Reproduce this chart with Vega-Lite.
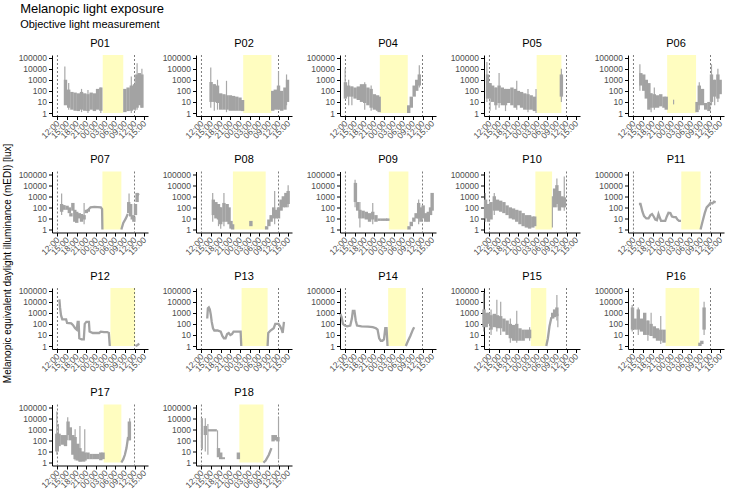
{
"$schema": "https://vega.github.io/schema/vega-lite/v6.json",
"background": "white",
"padding": {"left": 3, "top": 2, "right": 3, "bottom": 3},
"title": {"text": "Melanopic light exposure", "subtitle": "Objective light measurement", "anchor": "start", "frame": "bounds", "dx": 17, "font": "Liberation Sans", "fontSize": 13, "fontWeight": "normal", "color": "black", "subtitleFont": "Liberation Sans", "subtitleFontSize": 11, "subtitleColor": "black", "subtitlePadding": 3, "offset": 8},
"config": {
  "view": {"stroke": null},
  "axis": {"grid": false, "domainColor": "black", "domainWidth": 1, "tickColor": "black", "tickSize": 3.5, "labelColor": "#4D4D4D", "labelFont": "Liberation Sans", "labelFontSize": 8.5, "labelPadding": 2, "title": null}
},
"vconcat": [{
  "title": {"text": "Melanopic equivalent daylight illuminance (mEDI) [lux]", "orient": "left", "anchor": "middle", "font": "Liberation Sans", "fontSize": 10, "fontWeight": "normal", "color": "black", "offset": 5},
  "data": {"values": [
{"p":"P01","k":"s","h":26.1,"h2":32.5},{"p":"P01","k":"d","h":12},{"p":"P01","k":"d","h":36},
{"p":"P01","k":"b","h":14.5,"lo":5,"hi":1000},{"p":"P01","k":"b","h":15.5,"lo":3,"hi":130},{"p":"P01","k":"b","h":16.5,"lo":2,"hi":80},{"p":"P01","k":"b","h":17.5,"lo":1.6,"hi":70},{"p":"P01","k":"b","h":18.5,"lo":1.5,"hi":60},{"p":"P01","k":"b","h":19.5,"lo":2,"hi":80},{"p":"P01","k":"b","h":20.5,"lo":1.6,"hi":60},{"p":"P01","k":"b","h":21.5,"lo":1.5,"hi":50},{"p":"P01","k":"b","h":22.5,"lo":2,"hi":70},{"p":"P01","k":"b","h":23.5,"lo":1.5,"hi":60},{"p":"P01","k":"b","h":24.5,"lo":2,"hi":150},{"p":"P01","k":"b","h":25.5,"lo":1.6,"hi":200},{"p":"P01","k":"b","h":33,"lo":1.2,"hi":150},{"p":"P01","k":"b","h":34,"lo":1.5,"hi":200},{"p":"P01","k":"b","h":35,"lo":1.6,"hi":300},{"p":"P01","k":"b","h":36,"lo":2,"hi":400},{"p":"P01","k":"b","h":36.8,"lo":3,"hi":3000},{"p":"P01","k":"b","h":37.5,"lo":5,"hi":4000},{"p":"P01","k":"b","h":38.3,"lo":3,"hi":3000},
{"p":"P01","k":"x","h":14.3,"lo":10,"hi":16000},{"p":"P01","k":"x","h":15.5,"lo":2,"hi":500},{"p":"P01","k":"x","h":19.5,"lo":1.2,"hi":150},{"p":"P01","k":"x","h":21.5,"lo":1,"hi":120},{"p":"P01","k":"x","h":25.5,"lo":1,"hi":200},{"p":"P01","k":"x","h":35,"lo":1,"hi":2000},{"p":"P01","k":"x","h":36.2,"lo":1.6,"hi":3000},{"p":"P01","k":"x","h":36.8,"lo":2,"hi":30000},{"p":"P01","k":"x","h":38.3,"lo":3,"hi":10000},

{"p":"P02","k":"s","h":25,"h2":33.8},{"p":"P02","k":"d","h":12},{"p":"P02","k":"d","h":36},
{"p":"P02","k":"b","h":15,"lo":10,"hi":630},{"p":"P02","k":"b","h":16,"lo":10,"hi":400},{"p":"P02","k":"b","h":17,"lo":8,"hi":300},{"p":"P02","k":"b","h":18,"lo":2,"hi":60},{"p":"P02","k":"b","h":19,"lo":2,"hi":50},{"p":"P02","k":"b","h":20,"lo":2,"hi":40},{"p":"P02","k":"b","h":21,"lo":1.6,"hi":40},{"p":"P02","k":"b","h":22,"lo":1.6,"hi":35},{"p":"P02","k":"b","h":23,"lo":1.6,"hi":30},{"p":"P02","k":"b","h":24,"lo":1.6,"hi":25},{"p":"P02","k":"b","h":24.8,"lo":1.5,"hi":15},{"p":"P02","k":"b","h":34.2,"lo":1.6,"hi":100},{"p":"P02","k":"b","h":35,"lo":2,"hi":130},{"p":"P02","k":"b","h":36,"lo":2,"hi":300},{"p":"P02","k":"b","h":37,"lo":1.6,"hi":100},{"p":"P02","k":"b","h":38,"lo":2,"hi":200},{"p":"P02","k":"b","h":38.8,"lo":10,"hi":1000},
{"p":"P02","k":"x","h":14.9,"lo":3,"hi":13000},{"p":"P02","k":"x","h":16,"lo":1.6,"hi":400},{"p":"P02","k":"x","h":17,"lo":2,"hi":1000},{"p":"P02","k":"x","h":19.8,"lo":1.2,"hi":800},{"p":"P02","k":"x","h":36,"lo":2,"hi":6000},{"p":"P02","k":"x","h":38.5,"lo":5,"hi":3000},

{"p":"P04","k":"s","h":22.7,"h2":31.4},{"p":"P04","k":"d","h":12},{"p":"P04","k":"d","h":36},
{"p":"P04","k":"b","h":12,"lo":20,"hi":600},{"p":"P04","k":"b","h":13,"lo":30,"hi":300},{"p":"P04","k":"b","h":14,"lo":30,"hi":250},{"p":"P04","k":"b","h":15,"lo":20,"hi":200},{"p":"P04","k":"b","h":16,"lo":15,"hi":250},{"p":"P04","k":"b","h":17,"lo":10,"hi":400},{"p":"P04","k":"b","h":18,"lo":8,"hi":400},{"p":"P04","k":"b","h":19,"lo":5,"hi":200},{"p":"P04","k":"b","h":20,"lo":3,"hi":150},{"p":"P04","k":"b","h":21,"lo":2,"hi":50},{"p":"P04","k":"b","h":22,"lo":1.6,"hi":40},{"p":"P04","k":"b","h":22.5,"lo":1.2,"hi":30},{"p":"P04","k":"b","h":31.7,"lo":1,"hi":5},{"p":"P04","k":"b","h":32.5,"lo":3,"hi":30},{"p":"P04","k":"b","h":33.4,"lo":30,"hi":300},{"p":"P04","k":"b","h":34.2,"lo":100,"hi":1000},{"p":"P04","k":"b","h":35,"lo":300,"hi":3000},
{"p":"P04","k":"x","h":11.9,"lo":20,"hi":10000},{"p":"P04","k":"x","h":13,"lo":5,"hi":1000},{"p":"P04","k":"x","h":14,"lo":5,"hi":250},{"p":"P04","k":"x","h":18,"lo":2,"hi":600},{"p":"P04","k":"x","h":20,"lo":1.6,"hi":300},{"p":"P04","k":"x","h":35,"lo":200,"hi":20000},

{"p":"P05","k":"s","h":26.7,"h2":34.4},{"p":"P05","k":"d","h":12},{"p":"P05","k":"d","h":36},
{"p":"P05","k":"b","h":11.4,"lo":20,"hi":3000},{"p":"P05","k":"b","h":12.2,"lo":20,"hi":500},{"p":"P05","k":"b","h":13,"lo":10,"hi":300},{"p":"P05","k":"b","h":14,"lo":5,"hi":200},{"p":"P05","k":"b","h":15,"lo":8,"hi":300},{"p":"P05","k":"b","h":16,"lo":5,"hi":200},{"p":"P05","k":"b","h":17,"lo":5,"hi":150},{"p":"P05","k":"b","h":18,"lo":8,"hi":150},{"p":"P05","k":"b","h":19,"lo":5,"hi":200},{"p":"P05","k":"b","h":20,"lo":3,"hi":150},{"p":"P05","k":"b","h":21,"lo":5,"hi":100},{"p":"P05","k":"b","h":22,"lo":3,"hi":80},{"p":"P05","k":"b","h":23,"lo":2,"hi":60},{"p":"P05","k":"b","h":24,"lo":2,"hi":50},{"p":"P05","k":"b","h":25,"lo":2,"hi":40},{"p":"P05","k":"b","h":26,"lo":1.5,"hi":30},{"p":"P05","k":"b","h":34.4,"lo":30,"hi":3000},
{"p":"P05","k":"x","h":11.2,"lo":10,"hi":40000},{"p":"P05","k":"x","h":12.2,"lo":1.6,"hi":500},{"p":"P05","k":"x","h":14,"lo":2,"hi":200},{"p":"P05","k":"x","h":15,"lo":3,"hi":4000},{"p":"P05","k":"x","h":17,"lo":1.5,"hi":150},{"p":"P05","k":"x","h":20.5,"lo":2,"hi":800},{"p":"P05","k":"x","h":24,"lo":1.2,"hi":150},{"p":"P05","k":"x","h":26.5,"lo":1,"hi":150},{"p":"P05","k":"x","h":34.4,"lo":10,"hi":10000},

{"p":"P06","k":"s","h":22.5,"h2":31.5},{"p":"P06","k":"d","h":12},{"p":"P06","k":"d","h":36},
{"p":"P06","k":"b","h":14.3,"lo":300,"hi":4000},{"p":"P06","k":"b","h":15.2,"lo":100,"hi":3000},{"p":"P06","k":"b","h":16,"lo":20,"hi":1000},{"p":"P06","k":"b","h":16.8,"lo":2,"hi":500},{"p":"P06","k":"b","h":17.5,"lo":3,"hi":60},{"p":"P06","k":"b","h":18.5,"lo":3,"hi":50},{"p":"P06","k":"b","h":19.5,"lo":3,"hi":40},{"p":"P06","k":"b","h":20.5,"lo":4,"hi":50},{"p":"P06","k":"b","h":21.5,"lo":3,"hi":30},{"p":"P06","k":"b","h":22.2,"lo":2,"hi":30},{"p":"P06","k":"b","h":31.8,"lo":1.2,"hi":10},{"p":"P06","k":"b","h":32.5,"lo":5,"hi":300},{"p":"P06","k":"b","h":33.5,"lo":5,"hi":150},{"p":"P06","k":"b","h":34.5,"lo":2,"hi":8},{"p":"P06","k":"b","h":35.5,"lo":1.5,"hi":10},{"p":"P06","k":"b","h":36.3,"lo":10,"hi":3000},{"p":"P06","k":"b","h":37.3,"lo":30,"hi":1000},{"p":"P06","k":"b","h":38.3,"lo":20,"hi":3000},{"p":"P06","k":"b","h":39,"lo":50,"hi":1000},
{"p":"P06","k":"x","h":14,"lo":100,"hi":25000},{"p":"P06","k":"x","h":17.5,"lo":1.2,"hi":60},{"p":"P06","k":"x","h":18.5,"lo":2,"hi":200},{"p":"P06","k":"x","h":24.5,"lo":6,"hi":16},{"p":"P06","k":"x","h":32.5,"lo":2,"hi":600},{"p":"P06","k":"x","h":36.3,"lo":5,"hi":25000},{"p":"P06","k":"x","h":37.3,"lo":5,"hi":1000},{"p":"P06","k":"x","h":38.3,"lo":10,"hi":10000},

{"p":"P07","k":"s","h":26,"h2":31.9},{"p":"P07","k":"d","h":12},{"p":"P07","k":"d","h":36},
{"p":"P07","k":"b","h":13.3,"lo":40,"hi":200},{"p":"P07","k":"b","h":14,"lo":60,"hi":160},{"p":"P07","k":"b","h":15,"lo":60,"hi":140},{"p":"P07","k":"b","h":15.7,"lo":30,"hi":100},{"p":"P07","k":"b","h":16.2,"lo":15,"hi":30},{"p":"P07","k":"b","h":16.8,"lo":50,"hi":250},{"p":"P07","k":"b","h":17.4,"lo":5,"hi":60},{"p":"P07","k":"b","h":18,"lo":4,"hi":40},{"p":"P07","k":"b","h":18.8,"lo":10,"hi":30},{"p":"P07","k":"b","h":19.5,"lo":5,"hi":25},{"p":"P07","k":"b","h":20.3,"lo":8,"hi":20},{"p":"P07","k":"b","h":21,"lo":30,"hi":60},{"p":"P07","k":"b","h":21.6,"lo":40,"hi":70},{"p":"P07","k":"b","h":34.2,"lo":30,"hi":300},{"p":"P07","k":"b","h":34.8,"lo":15,"hi":200},{"p":"P07","k":"b","h":35.3,"lo":8,"hi":20},{"p":"P07","k":"b","h":35.8,"lo":5,"hi":15},{"p":"P07","k":"b","h":36.3,"lo":20,"hi":200},{"p":"P07","k":"b","h":36.8,"lo":300,"hi":2000},
{"p":"P07","k":"x","h":13.3,"lo":20,"hi":1800},{"p":"P07","k":"x","h":20.3,"lo":3,"hi":250},{"p":"P07","k":"x","h":34.3,"lo":30,"hi":1800},
{"p":"P07","k":"l","s":"a","h":21.6,"v":60},{"p":"P07","k":"l","s":"a","h":22.3,"v":100},{"p":"P07","k":"l","s":"a","h":23.5,"v":110},{"p":"P07","k":"l","s":"a","h":24.5,"v":105},{"p":"P07","k":"l","s":"a","h":25.5,"v":100},{"p":"P07","k":"l","s":"a","h":25.9,"v":70},{"p":"P07","k":"l","s":"a","h":26,"v":1},
{"p":"P07","k":"l","s":"b","h":31.9,"v":1},{"p":"P07","k":"l","s":"b","h":32.5,"v":4},{"p":"P07","k":"l","s":"b","h":33.3,"v":10},{"p":"P07","k":"l","s":"b","h":33.9,"v":25},
{"p":"P07","k":"l","s":"c","h":36.8,"v":1000},{"p":"P07","k":"l","s":"c","h":37.3,"v":1800},

{"p":"P08","k":"s","h":21.8,"h2":32},{"p":"P08","k":"d","h":12},{"p":"P08","k":"d","h":36},
{"p":"P08","k":"b","h":15.7,"lo":20,"hi":500},{"p":"P08","k":"b","h":16.5,"lo":10,"hi":300},{"p":"P08","k":"b","h":17.3,"lo":8,"hi":200},{"p":"P08","k":"b","h":18,"lo":3,"hi":100},{"p":"P08","k":"b","h":19,"lo":5,"hi":250},{"p":"P08","k":"b","h":20,"lo":5,"hi":200},{"p":"P08","k":"b","h":20.6,"lo":3,"hi":100},{"p":"P08","k":"b","h":21.2,"lo":1.2,"hi":6},{"p":"P08","k":"b","h":21.7,"lo":1,"hi":3},{"p":"P08","k":"b","h":27.4,"lo":2,"hi":6},{"p":"P08","k":"b","h":32.3,"lo":1,"hi":2},{"p":"P08","k":"b","h":33,"lo":2,"hi":8},{"p":"P08","k":"b","h":33.7,"lo":5,"hi":20},{"p":"P08","k":"b","h":34.5,"lo":10,"hi":100},{"p":"P08","k":"b","h":35.3,"lo":10,"hi":60},{"p":"P08","k":"b","h":36,"lo":10,"hi":100},{"p":"P08","k":"b","h":36.8,"lo":50,"hi":500},{"p":"P08","k":"b","h":37.5,"lo":100,"hi":1000},{"p":"P08","k":"b","h":38.3,"lo":100,"hi":2000},{"p":"P08","k":"b","h":39,"lo":200,"hi":3000},
{"p":"P08","k":"x","h":15.5,"lo":5,"hi":2000},{"p":"P08","k":"x","h":17.3,"lo":2,"hi":200},{"p":"P08","k":"x","h":18,"lo":1.2,"hi":100},{"p":"P08","k":"x","h":19,"lo":2,"hi":2000},{"p":"P08","k":"x","h":34.8,"lo":3,"hi":3000},{"p":"P08","k":"x","h":39,"lo":100,"hi":10000},

{"p":"P09","k":"s","h":25.5,"h2":31.6},{"p":"P09","k":"d","h":12},{"p":"P09","k":"d","h":36},
{"p":"P09","k":"b","h":15.1,"lo":300,"hi":16000},{"p":"P09","k":"b","h":15.8,"lo":50,"hi":300},{"p":"P09","k":"b","h":16.5,"lo":10,"hi":60},{"p":"P09","k":"b","h":17.5,"lo":10,"hi":50},{"p":"P09","k":"b","h":18.5,"lo":8,"hi":40},{"p":"P09","k":"b","h":19.5,"lo":5,"hi":30},{"p":"P09","k":"b","h":20.5,"lo":8,"hi":40},{"p":"P09","k":"b","h":21.5,"lo":5,"hi":20},{"p":"P09","k":"b","h":22.5,"lo":6,"hi":10},{"p":"P09","k":"b","h":23.5,"lo":6,"hi":10},{"p":"P09","k":"b","h":24.5,"lo":6,"hi":10},{"p":"P09","k":"b","h":25.2,"lo":6,"hi":10},{"p":"P09","k":"b","h":31.8,"lo":1,"hi":2},{"p":"P09","k":"b","h":32.5,"lo":2,"hi":5},{"p":"P09","k":"b","h":33.3,"lo":5,"hi":12},{"p":"P09","k":"b","h":34,"lo":10,"hi":30},{"p":"P09","k":"b","h":34.8,"lo":10,"hi":250},{"p":"P09","k":"b","h":35.5,"lo":5,"hi":100},{"p":"P09","k":"b","h":36.2,"lo":10,"hi":150},{"p":"P09","k":"b","h":37,"lo":5,"hi":30},{"p":"P09","k":"b","h":37.8,"lo":5,"hi":40},{"p":"P09","k":"b","h":38.5,"lo":20,"hi":100},{"p":"P09","k":"b","h":39,"lo":50,"hi":2000},
{"p":"P09","k":"x","h":15,"lo":100,"hi":30000},{"p":"P09","k":"x","h":16.5,"lo":1.5,"hi":300},{"p":"P09","k":"x","h":20.5,"lo":3,"hi":250},{"p":"P09","k":"x","h":34.8,"lo":3,"hi":500},

{"p":"P10","k":"s","h":26.3,"h2":31.5},{"p":"P10","k":"d","h":12},{"p":"P10","k":"d","h":36},
{"p":"P10","k":"b","h":10.8,"lo":10,"hi":500},{"p":"P10","k":"b","h":11.7,"lo":5,"hi":200},{"p":"P10","k":"b","h":12.5,"lo":8,"hi":300},{"p":"P10","k":"b","h":13.5,"lo":50,"hi":1000},{"p":"P10","k":"b","h":14.5,"lo":50,"hi":500},{"p":"P10","k":"b","h":15.5,"lo":40,"hi":400},{"p":"P10","k":"b","h":16.5,"lo":30,"hi":300},{"p":"P10","k":"b","h":17.5,"lo":20,"hi":150},{"p":"P10","k":"b","h":18.5,"lo":10,"hi":100},{"p":"P10","k":"b","h":19.5,"lo":8,"hi":80},{"p":"P10","k":"b","h":20.5,"lo":5,"hi":60},{"p":"P10","k":"b","h":21.5,"lo":3,"hi":50},{"p":"P10","k":"b","h":22.5,"lo":2,"hi":30},{"p":"P10","k":"b","h":23.5,"lo":1.5,"hi":20},{"p":"P10","k":"b","h":24.5,"lo":1.2,"hi":20},{"p":"P10","k":"b","h":25.5,"lo":1.5,"hi":15},{"p":"P10","k":"b","h":26.1,"lo":2,"hi":15},{"p":"P10","k":"b","h":32.3,"lo":100,"hi":5000},{"p":"P10","k":"b","h":33,"lo":200,"hi":10000},{"p":"P10","k":"b","h":33.8,"lo":50,"hi":3000},{"p":"P10","k":"b","h":34.6,"lo":100,"hi":1000},{"p":"P10","k":"b","h":35.3,"lo":100,"hi":800},
{"p":"P10","k":"x","h":10.7,"lo":5,"hi":2000},{"p":"P10","k":"x","h":13.5,"lo":20,"hi":2000},{"p":"P10","k":"x","h":31.6,"lo":1.5,"hi":1000},{"p":"P10","k":"x","h":33,"lo":100,"hi":40000},{"p":"P10","k":"x","h":35.3,"lo":50,"hi":60000},

{"p":"P11","k":"s","h":26.9,"h2":32.9},{"p":"P11","k":"d","h":12},{"p":"P11","k":"d","h":36},
{"p":"P11","k":"l","s":"a","h":13.7,"v":200},{"p":"P11","k":"l","s":"a","h":14.2,"v":200},{"p":"P11","k":"l","s":"a","h":14.8,"v":40},{"p":"P11","k":"l","s":"a","h":15.3,"v":16},{"p":"P11","k":"l","s":"a","h":16,"v":10},{"p":"P11","k":"l","s":"a","h":16.7,"v":10},{"p":"P11","k":"l","s":"a","h":17.3,"v":20},{"p":"P11","k":"l","s":"a","h":17.8,"v":25},{"p":"P11","k":"l","s":"a","h":18.3,"v":15},{"p":"P11","k":"l","s":"a","h":18.8,"v":8},{"p":"P11","k":"l","s":"a","h":19.3,"v":7},{"p":"P11","k":"l","s":"a","h":19.8,"v":25},{"p":"P11","k":"l","s":"a","h":20.2,"v":12},{"p":"P11","k":"l","s":"a","h":20.6,"v":6},{"p":"P11","k":"l","s":"a","h":21.2,"v":6},{"p":"P11","k":"l","s":"a","h":21.9,"v":6},{"p":"P11","k":"l","s":"a","h":22.4,"v":15},{"p":"P11","k":"l","s":"a","h":22.9,"v":32},{"p":"P11","k":"l","s":"a","h":23.5,"v":30},{"p":"P11","k":"l","s":"a","h":24,"v":15},{"p":"P11","k":"l","s":"a","h":24.6,"v":13},{"p":"P11","k":"l","s":"a","h":25.2,"v":13},{"p":"P11","k":"l","s":"a","h":25.7,"v":8},{"p":"P11","k":"l","s":"a","h":26.2,"v":6},{"p":"P11","k":"l","s":"a","h":26.8,"v":6},
{"p":"P11","k":"l","s":"b","h":32.9,"v":1},{"p":"P11","k":"l","s":"b","h":33.5,"v":5},{"p":"P11","k":"l","s":"b","h":34.2,"v":30},{"p":"P11","k":"l","s":"b","h":34.8,"v":100},{"p":"P11","k":"l","s":"b","h":35.4,"v":150},{"p":"P11","k":"l","s":"b","h":36,"v":250},{"p":"P11","k":"l","s":"b","h":36.6,"v":220},{"p":"P11","k":"l","s":"b","h":37.1,"v":320},{"p":"P11","k":"l","s":"b","h":37.6,"v":280},

{"p":"P12","k":"s","h":28.5,"h2":36.2},{"p":"P12","k":"d","h":12},{"p":"P12","k":"d","h":36},
{"p":"P12","k":"l","s":"a","h":12.6,"v":16000},{"p":"P12","k":"l","s":"a","h":12.8,"v":3000},{"p":"P12","k":"l","s":"a","h":13.1,"v":600},{"p":"P12","k":"l","s":"a","h":13.5,"v":250},{"p":"P12","k":"l","s":"a","h":14.7,"v":250},{"p":"P12","k":"l","s":"a","h":15,"v":120},{"p":"P12","k":"l","s":"a","h":16.3,"v":110},{"p":"P12","k":"l","s":"a","h":16.8,"v":80},{"p":"P12","k":"l","s":"a","h":17.5,"v":40},{"p":"P12","k":"l","s":"a","h":18,"v":30},{"p":"P12","k":"l","s":"a","h":18.3,"v":150},{"p":"P12","k":"l","s":"a","h":18.6,"v":150},{"p":"P12","k":"l","s":"a","h":18.8,"v":5},{"p":"P12","k":"l","s":"a","h":19.5,"v":4},{"p":"P12","k":"l","s":"a","h":20.2,"v":4},{"p":"P12","k":"l","s":"a","h":20.5,"v":100},{"p":"P12","k":"l","s":"a","h":21,"v":150},{"p":"P12","k":"l","s":"a","h":21.8,"v":150},{"p":"P12","k":"l","s":"a","h":22,"v":20},{"p":"P12","k":"l","s":"a","h":23,"v":15},{"p":"P12","k":"l","s":"a","h":24,"v":15},{"p":"P12","k":"l","s":"a","h":25,"v":15},{"p":"P12","k":"l","s":"a","h":25.5,"v":20},{"p":"P12","k":"l","s":"a","h":26.5,"v":18},{"p":"P12","k":"l","s":"a","h":27.5,"v":18},{"p":"P12","k":"l","s":"a","h":28,"v":15},{"p":"P12","k":"l","s":"a","h":28.3,"v":1},
{"p":"P12","k":"l","s":"b","h":36.3,"v":1},{"p":"P12","k":"l","s":"b","h":36.8,"v":1.2},{"p":"P12","k":"l","s":"b","h":37.5,"v":1.6},

{"p":"P13","k":"s","h":24.5,"h2":32.6},{"p":"P13","k":"d","h":12},{"p":"P13","k":"d","h":36},
{"p":"P13","k":"l","s":"a","h":13.8,"v":300},{"p":"P13","k":"l","s":"a","h":14,"v":2500},{"p":"P13","k":"l","s":"a","h":14.3,"v":3000},{"p":"P13","k":"l","s":"a","h":14.6,"v":2000},{"p":"P13","k":"l","s":"a","h":14.9,"v":700},{"p":"P13","k":"l","s":"a","h":15.2,"v":150},{"p":"P13","k":"l","s":"a","h":15.6,"v":40},{"p":"P13","k":"l","s":"a","h":16,"v":25},{"p":"P13","k":"l","s":"a","h":17,"v":25},{"p":"P13","k":"l","s":"a","h":18,"v":20},{"p":"P13","k":"l","s":"a","h":18.5,"v":8},{"p":"P13","k":"l","s":"a","h":19,"v":5},{"p":"P13","k":"l","s":"a","h":19.5,"v":5},{"p":"P13","k":"l","s":"a","h":20,"v":12},{"p":"P13","k":"l","s":"a","h":20.5,"v":15},{"p":"P13","k":"l","s":"a","h":21,"v":10},{"p":"P13","k":"l","s":"a","h":21.5,"v":12},{"p":"P13","k":"l","s":"a","h":22,"v":20},{"p":"P13","k":"l","s":"a","h":23,"v":20},{"p":"P13","k":"l","s":"a","h":24.2,"v":20},{"p":"P13","k":"l","s":"a","h":24.4,"v":1},
{"p":"P13","k":"l","s":"b","h":32.6,"v":1},{"p":"P13","k":"l","s":"b","h":32.8,"v":15},{"p":"P13","k":"l","s":"b","h":33.5,"v":25},{"p":"P13","k":"l","s":"b","h":34.5,"v":40},{"p":"P13","k":"l","s":"b","h":35,"v":100},{"p":"P13","k":"l","s":"b","h":35.5,"v":100},{"p":"P13","k":"l","s":"b","h":36,"v":100},{"p":"P13","k":"l","s":"b","h":36.5,"v":60},{"p":"P13","k":"l","s":"b","h":37,"v":30},{"p":"P13","k":"l","s":"b","h":37.3,"v":15},{"p":"P13","k":"l","s":"b","h":37.7,"v":150},

{"p":"P14","k":"s","h":25.3,"h2":30.8},{"p":"P14","k":"d","h":12},{"p":"P14","k":"d","h":36},
{"p":"P14","k":"l","s":"a","h":10.4,"v":800},{"p":"P14","k":"l","s":"a","h":10.8,"v":400},{"p":"P14","k":"l","s":"a","h":11.2,"v":100},{"p":"P14","k":"l","s":"a","h":11.8,"v":70},{"p":"P14","k":"l","s":"a","h":12.5,"v":60},{"p":"P14","k":"l","s":"a","h":13.5,"v":70},{"p":"P14","k":"l","s":"a","h":14,"v":300},{"p":"P14","k":"l","s":"a","h":14.3,"v":1500},{"p":"P14","k":"l","s":"a","h":14.8,"v":1500},{"p":"P14","k":"l","s":"a","h":15.2,"v":200},{"p":"P14","k":"l","s":"a","h":15.6,"v":70},{"p":"P14","k":"l","s":"a","h":17,"v":60},{"p":"P14","k":"l","s":"a","h":19,"v":55},{"p":"P14","k":"l","s":"a","h":20.5,"v":50},{"p":"P14","k":"l","s":"a","h":21.5,"v":40},{"p":"P14","k":"l","s":"a","h":22,"v":30},{"p":"P14","k":"l","s":"a","h":22.5,"v":5},{"p":"P14","k":"l","s":"a","h":23,"v":3},{"p":"P14","k":"l","s":"a","h":23.5,"v":3},{"p":"P14","k":"l","s":"a","h":24,"v":4},{"p":"P14","k":"l","s":"a","h":24.4,"v":40},{"p":"P14","k":"l","s":"a","h":24.8,"v":40},{"p":"P14","k":"l","s":"a","h":25.1,"v":1},
{"p":"P14","k":"l","s":"b","h":30.8,"v":1},{"p":"P14","k":"l","s":"b","h":31.5,"v":3},{"p":"P14","k":"l","s":"b","h":32.2,"v":8},{"p":"P14","k":"l","s":"b","h":33,"v":30},{"p":"P14","k":"l","s":"b","h":33.4,"v":50},

{"p":"P15","k":"s","h":24.9,"h2":29.7},{"p":"P15","k":"d","h":12},{"p":"P15","k":"d","h":36},
{"p":"P15","k":"b","h":10.3,"lo":50,"hi":2000},{"p":"P15","k":"b","h":11,"lo":50,"hi":1000},{"p":"P15","k":"b","h":11.7,"lo":100,"hi":1000},{"p":"P15","k":"b","h":12.5,"lo":30,"hi":600},{"p":"P15","k":"b","h":13.5,"lo":50,"hi":800},{"p":"P15","k":"b","h":14.5,"lo":40,"hi":600},{"p":"P15","k":"b","h":15.5,"lo":40,"hi":500},{"p":"P15","k":"b","h":16.5,"lo":20,"hi":300},{"p":"P15","k":"b","h":17.5,"lo":10,"hi":200},{"p":"P15","k":"b","h":18.5,"lo":5,"hi":100},{"p":"P15","k":"b","h":19.5,"lo":3,"hi":80},{"p":"P15","k":"b","h":20.5,"lo":3,"hi":100},{"p":"P15","k":"b","h":21.5,"lo":3,"hi":40},{"p":"P15","k":"b","h":22.5,"lo":3,"hi":30},{"p":"P15","k":"b","h":23.5,"lo":5,"hi":30},{"p":"P15","k":"b","h":24.5,"lo":5,"hi":30},{"p":"P15","k":"b","h":31.7,"lo":300,"hi":1000},{"p":"P15","k":"b","h":32.3,"lo":400,"hi":2000},{"p":"P15","k":"b","h":33,"lo":500,"hi":3000},
{"p":"P15","k":"x","h":10.2,"lo":20,"hi":60000},{"p":"P15","k":"x","h":12.5,"lo":10,"hi":2000},{"p":"P15","k":"x","h":14.3,"lo":20,"hi":15000},{"p":"P15","k":"x","h":15.5,"lo":10,"hi":10000},{"p":"P15","k":"x","h":18.5,"lo":2,"hi":300},{"p":"P15","k":"x","h":20.5,"lo":2,"hi":1500},{"p":"P15","k":"x","h":24.5,"lo":3,"hi":50},{"p":"P15","k":"x","h":33,"lo":200,"hi":40000},{"p":"P15","k":"x","h":33.3,"lo":50,"hi":800},
{"p":"P15","k":"l","s":"b","h":29.7,"v":1},{"p":"P15","k":"l","s":"b","h":30.2,"v":5},{"p":"P15","k":"l","s":"b","h":30.7,"v":60},{"p":"P15","k":"l","s":"b","h":31.3,"v":400},

{"p":"P16","k":"s","h":22,"h2":32.5},{"p":"P16","k":"d","h":12},{"p":"P16","k":"d","h":36},
{"p":"P16","k":"b","h":11.7,"lo":30,"hi":3000},{"p":"P16","k":"b","h":12.5,"lo":30,"hi":300},{"p":"P16","k":"b","h":13.5,"lo":30,"hi":2000},{"p":"P16","k":"b","h":14.5,"lo":20,"hi":300},{"p":"P16","k":"b","h":15.5,"lo":10,"hi":1000},{"p":"P16","k":"b","h":16.5,"lo":10,"hi":200},{"p":"P16","k":"b","h":17.5,"lo":8,"hi":100},{"p":"P16","k":"b","h":18.5,"lo":5,"hi":60},{"p":"P16","k":"b","h":19.5,"lo":3,"hi":40},{"p":"P16","k":"b","h":20.5,"lo":3,"hi":30},{"p":"P16","k":"b","h":21.5,"lo":2,"hi":30},{"p":"P16","k":"b","h":32.7,"lo":1,"hi":2},{"p":"P16","k":"b","h":33.3,"lo":1.5,"hi":3},{"p":"P16","k":"b","h":34,"lo":30,"hi":3000},
{"p":"P16","k":"x","h":11.6,"lo":20,"hi":5000},{"p":"P16","k":"x","h":13.5,"lo":10,"hi":3000},{"p":"P16","k":"x","h":16.5,"lo":3,"hi":200},{"p":"P16","k":"x","h":17.5,"lo":10,"hi":1000},{"p":"P16","k":"x","h":20.5,"lo":1.5,"hi":500},{"p":"P16","k":"x","h":34,"lo":10,"hi":10000},

{"p":"P17","k":"s","h":26.4,"h2":31.9},{"p":"P17","k":"d","h":12},{"p":"P17","k":"d","h":36},
{"p":"P17","k":"b","h":11.8,"lo":10,"hi":400},{"p":"P17","k":"b","h":12.5,"lo":30,"hi":400},{"p":"P17","k":"b","h":13.5,"lo":40,"hi":300},{"p":"P17","k":"b","h":14.5,"lo":30,"hi":300},{"p":"P17","k":"b","h":15.3,"lo":300,"hi":5000},{"p":"P17","k":"b","h":16,"lo":100,"hi":1500},{"p":"P17","k":"b","h":16.8,"lo":5,"hi":300},{"p":"P17","k":"b","h":17.5,"lo":2,"hi":200},{"p":"P17","k":"b","h":18.3,"lo":1.5,"hi":50},{"p":"P17","k":"b","h":19,"lo":1.2,"hi":20},{"p":"P17","k":"b","h":19.8,"lo":1.2,"hi":10},{"p":"P17","k":"b","h":20.6,"lo":1.5,"hi":8},{"p":"P17","k":"b","h":21.5,"lo":2,"hi":8},{"p":"P17","k":"b","h":22.5,"lo":2,"hi":6},{"p":"P17","k":"b","h":23.5,"lo":2,"hi":6},{"p":"P17","k":"b","h":24.5,"lo":2,"hi":6},{"p":"P17","k":"b","h":25.5,"lo":1.6,"hi":8},{"p":"P17","k":"b","h":26.2,"lo":2,"hi":8},{"p":"P17","k":"b","h":34.4,"lo":100,"hi":5000},
{"p":"P17","k":"x","h":11.8,"lo":5,"hi":40000},{"p":"P17","k":"x","h":12.3,"lo":10,"hi":3000},{"p":"P17","k":"x","h":15.2,"lo":100,"hi":12000},{"p":"P17","k":"x","h":17.5,"lo":1.5,"hi":1000},{"p":"P17","k":"x","h":19,"lo":1.2,"hi":2000},{"p":"P17","k":"x","h":20.5,"lo":1.2,"hi":1000},{"p":"P17","k":"x","h":34.5,"lo":100,"hi":10000},
{"p":"P17","k":"l","s":"b","h":31.9,"v":1},{"p":"P17","k":"l","s":"b","h":32.5,"v":2},{"p":"P17","k":"l","s":"b","h":33,"v":5},{"p":"P17","k":"l","s":"b","h":33.5,"v":20},{"p":"P17","k":"l","s":"b","h":34,"v":200},

{"p":"P18","k":"s","h":23.8,"h2":31.3},{"p":"P18","k":"d","h":12},{"p":"P18","k":"d","h":36},
{"p":"P18","k":"b","h":13.2,"lo":300,"hi":2000},{"p":"P18","k":"b","h":17.3,"lo":3,"hi":20},{"p":"P18","k":"b","h":18,"lo":2,"hi":8},{"p":"P18","k":"b","h":18.8,"lo":2,"hi":3},{"p":"P18","k":"b","h":23.5,"lo":2,"hi":8},{"p":"P18","k":"b","h":34.3,"lo":80,"hi":300},{"p":"P18","k":"b","h":35,"lo":100,"hi":300},{"p":"P18","k":"b","h":35.8,"lo":80,"hi":200},
{"p":"P18","k":"x","h":12,"lo":20,"hi":10000},{"p":"P18","k":"x","h":12.3,"lo":15,"hi":10000},{"p":"P18","k":"x","h":13.2,"lo":10,"hi":10000},{"p":"P18","k":"x","h":14,"lo":5,"hi":3000},{"p":"P18","k":"x","h":17,"lo":16,"hi":800},{"p":"P18","k":"x","h":36,"lo":2,"hi":12000},
{"p":"P18","k":"l","s":"a","h":14,"v":800},{"p":"P18","k":"l","s":"a","h":16.8,"v":800},
{"p":"P18","k":"l","s":"b","h":31.3,"v":1},{"p":"P18","k":"l","s":"b","h":32,"v":1.5},{"p":"P18","k":"l","s":"b","h":33,"v":5},{"p":"P18","k":"l","s":"b","h":33.8,"v":20}
  ]},
  "facet": {"field": "p", "type": "nominal", "header": {"title": null, "labelFont": "Liberation Sans", "labelFontSize": 11, "labelColor": "black", "labelPadding": 5}},
  "columns": 5,
  "spacing": {"row": 13.5, "column": 14},
  "resolve": {"axis": {"x": "independent", "y": "independent"}},
  "spec": {
    "width": 96,
    "height": 61,
    "encoding": {
      "x": {"type": "quantitative", "title": null, "scale": {"domain": [10.3, 40.2], "nice": false, "zero": false}, "axis": {"title": null, "values": [12, 15, 18, 21, 24, 27, 30, 33, 36, 39], "labelExpr": "((datum.value % 24) < 10 ? '0' : '') + (datum.value % 24) + ':00'", "labelAngle": -45, "labelAlign": "right", "labelBaseline": "middle", "labelOverlap": false, "labelFlush": false}},
      "y": {"type": "quantitative", "title": null, "scale": {"type": "log", "domain": [0.54, 170000], "nice": false}, "axis": {"title": null, "values": [1, 10, 100, 1000, 10000, 100000], "format": "d", "labelOverlap": false, "labelFlush": false}}
    },
    "layer": [
      {"transform": [{"filter": "datum.k == 's'"}],
       "mark": {"type": "rect", "color": "#FFFDC0"},
       "encoding": {
         "x": {"field": "h", "type": "quantitative"},
         "x2": {"field": "h2"},
         "y": {"datum": 1, "type": "quantitative"},
         "y2": {"datum": 170000}
       }},
      {"transform": [{"filter": "datum.k == 'd'"}],
       "mark": {"type": "rule", "color": "#444444", "strokeWidth": 0.7, "strokeDash": [2, 2]},
       "encoding": {"x": {"field": "h", "type": "quantitative"}, "y": null}},
      {"transform": [{"filter": "datum.k == 'x'"}],
       "mark": {"type": "rule", "color": "#A8A8A8", "strokeWidth": 1.2},
       "encoding": {"x": {"field": "h", "type": "quantitative"}, "y": {"field": "lo", "type": "quantitative"}, "y2": {"field": "hi"}}},
      {"transform": [{"filter": "datum.k == 'b'"}],
       "mark": {"type": "rule", "color": "#A3A3A3", "strokeWidth": 3.4},
       "encoding": {"x": {"field": "h", "type": "quantitative"}, "y": {"field": "lo", "type": "quantitative"}, "y2": {"field": "hi"}}},
      {"transform": [{"filter": "datum.k == 'l'"}],
       "mark": {"type": "line", "color": "#A3A3A3", "strokeWidth": 2.3},
       "encoding": {"x": {"field": "h", "type": "quantitative"}, "y": {"field": "v", "type": "quantitative"}, "detail": {"field": "s"}}}
    ]
  }
}]
}
